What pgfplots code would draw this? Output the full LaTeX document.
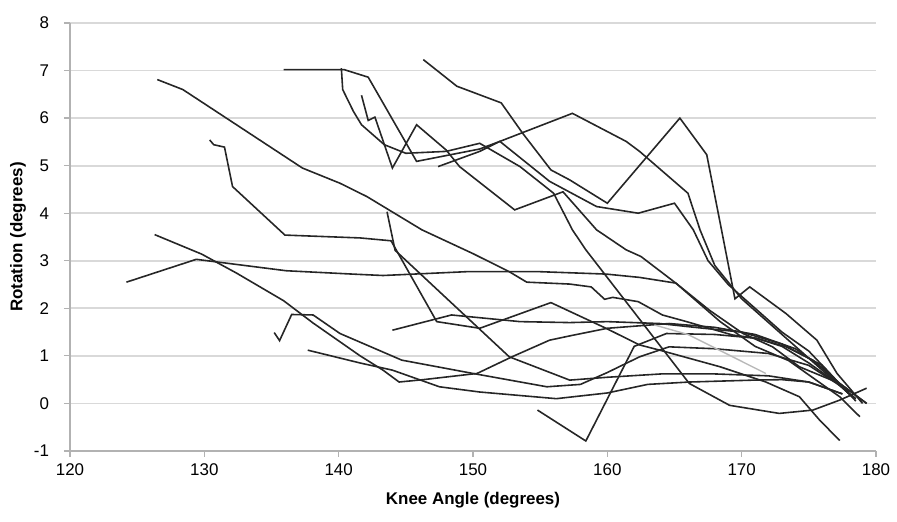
\documentclass[border=0pt]{standalone}
\usepackage{fontspec}
\setmainfont{Liberation Sans}
\usepackage{pgfplots}
\pgfplotsset{compat=1.18}
\usetikzlibrary{calc}

\tikzset{ln/.style={black!85, line width=0.8pt, mark=none}}

\begin{document}
\begin{tikzpicture}
\begin{axis}[
    scale only axis,
    width=403bp, height=214bp,
    xmin=120, xmax=180,
    ymin=-1, ymax=8,
    xtick={120,130,...,180},
    ytick={-1,0,...,8},
    axis x line=bottom, axis y line=left,
    axis line style={-, gray!60, line width=0.6pt},
    ymajorgrids=true,
    grid style={gray!30, line width=0.9pt},
    tick style={gray!60, line width=0.6pt},
    tick align=outside,
    major tick length=3bp,
    /pgf/number format/assume math mode=true,
    ticklabel style={font=\fontsize{8.5}{10}\selectfont},
    yticklabel style={xshift=-4bp},
    every axis x label/.style={at={(axis description cs:0.5,-0.1145)}, anchor=center},
    every axis y label/.style={at={(axis description cs:-0.0645,0.5)}, rotate=90, anchor=center},
    label style={font=\fontsize{8.5}{10}\selectfont\bfseries},
    xlabel={Knee Angle (degrees)},
    ylabel={Rotation (degrees)},
    clip=false,
]
% long diagonal from 126
\addplot[ln] coordinates {(126.5,6.81) (128.4,6.6) (137.3,4.95) (140.1,4.63) (142.1,4.35) (146.2,3.65) (150,3.15) (152.7,2.77) (154,2.55) (157.2,2.51) (158.8,2.45) (159.8,2.19) (160.4,2.23) (162.3,2.14) (164.1,1.86) (165.9,1.72) (169.3,1.44) (171.1,1.37) (173.3,1.19) (175.3,0.91) (177.3,0.42) (179.3,0.0)};
\addplot[ln] coordinates {(126.3,3.55) (129.8,3.14) (132.4,2.74) (135.9,2.16) (138.1,1.69) (141.6,1.0) (143.3,0.70) (144.5,0.45) (146.3,0.50) (150.3,0.63) (152.9,0.98) (155.7,1.33) (157.2,1.42) (160,1.58) (164.6,1.68) (168,1.6) (171,1.45) (174,1.15) (176,0.75) (178,0.2)};
\addplot[ln] coordinates {(124.2,2.55) (129.4,3.03) (136.1,2.79) (141,2.72) (143.3,2.69) (149.5,2.77) (155,2.77) (159.9,2.72) (162.4,2.65) (165.1,2.53) (167.6,1.96) (170.1,1.47) (172.3,1.19) (174.3,0.77) (177.3,0.42) (179.3,0.0)};
\addplot[ln] coordinates {(130.4,5.54) (130.7,5.44) (131.5,5.39) (132.1,4.56) (136,3.54) (141.6,3.48) (143.9,3.42) (147.3,1.72) (150.5,1.58) (155.8,2.12) (159.9,1.58) (162.4,1.23) (163.9,1.12) (168.4,0.77) (171.8,0.45) (174.3,0.14) (175.8,-0.35) (177.3,-0.78)};
\addplot[ln] coordinates {(135.2,1.49) (135.6,1.32) (136.5,1.87) (138.1,1.86) (140.1,1.47) (144.7,0.91) (150,0.63) (155.5,0.35) (158,0.4) (160,0.65) (162.4,0.98) (164.6,1.19) (168,1.15) (172,1.05) (175,0.8) (178,0.25)};
\addplot[ln] coordinates {(137.7,1.12) (141.6,0.85) (144,0.7) (147.5,0.35) (150.5,0.24) (156.2,0.10) (160,0.22) (163,0.4) (166.1,0.45) (170.9,0.49) (173,0.5) (175,0.45) (177.5,0.2)};
% top group
\addplot[ln] coordinates {(135.9,7.02) (140.4,7.02) (142.2,6.86) (145.8,5.09) (150.5,5.35) (152,5.51) (155.7,4.67) (159.2,4.14) (162.3,4.0) (165,4.21) (166.4,3.65) (167.5,3.0) (169,2.5) (171,2.0) (173,1.5) (175,1.1) (177,0.5) (178.5,0.05)};
\addplot[ln] coordinates {(140.2,7.05) (140.3,6.6) (141.1,6.14) (141.7,5.86) (143.4,5.44) (145,5.26) (148,5.3) (150.5,5.47) (153.5,4.98) (156,4.42) (157.4,3.65) (158.4,3.23) (166.1,0.42) (169.1,-0.04) (172.8,-0.21) (175.3,-0.14) (177.3,0.07) (179.3,0.32)};
\addplot[ln] coordinates {(141.7,6.48) (142.2,5.95) (142.7,6.02) (144,4.95) (145.8,5.86) (148,5.33) (149,4.98) (153.1,4.07) (156.7,4.45) (159.2,3.65) (161.4,3.23) (162.5,3.09) (165.1,2.53) (168.4,1.72) (171,1.2) (173.5,0.9) (175,0.6) (177.3,0.14) (178.8,-0.28)};
\addplot[ln] coordinates {(147.4,4.98) (150.5,5.3) (152,5.51) (157.4,6.1) (161.4,5.51) (162.4,5.3) (166,4.42) (166.9,3.65) (168,2.9) (170,2.2) (172,1.7) (174,1.2) (176,0.7) (178,0.2)};
\addplot[ln] coordinates {(146.3,7.23) (148.8,6.67) (152.1,6.32) (153.7,5.68) (155.8,4.91) (157.2,4.7) (160,4.21) (165.4,6.0) (167.4,5.23) (168.5,3.65) (169.5,2.2) (170.6,2.45) (173.3,1.89) (175.6,1.33) (177.1,0.63) (179,0.0)};
% lower group
\addplot[ln] coordinates {(154.8,-0.14) (158.4,-0.79) (162,1.2) (164.4,1.47) (168,1.45) (171.1,1.37) (173,1.2) (175,0.85) (177,0.45) (178.5,0.1)};
\addplot[ln] coordinates {(144,1.54) (148.4,1.86) (153.5,1.72) (157.2,1.70) (160,1.72) (163.9,1.68) (166.5,1.6) (170,1.5) (173,1.25) (176,0.8) (178,0.2)};
\addplot[ln] coordinates {(143.6,4.03) (144.2,3.22) (152.7,0.98) (157.2,0.49) (160,0.55) (164,0.62) (168,0.62) (172,0.58) (175,0.45) (177.5,0.2)};
\addplot[gray!55, line width=0.7pt, mark=none] coordinates {(163.5,1.65) (166,1.45) (171.8,0.63)};
\end{axis}
\pgfresetboundingbox
\path ($(current axis.south west)+(-35bp,-35.5bp)$) rectangle ($(current axis.north east)+(10.5bp,11.5bp)$);
\end{tikzpicture}
\end{document}
